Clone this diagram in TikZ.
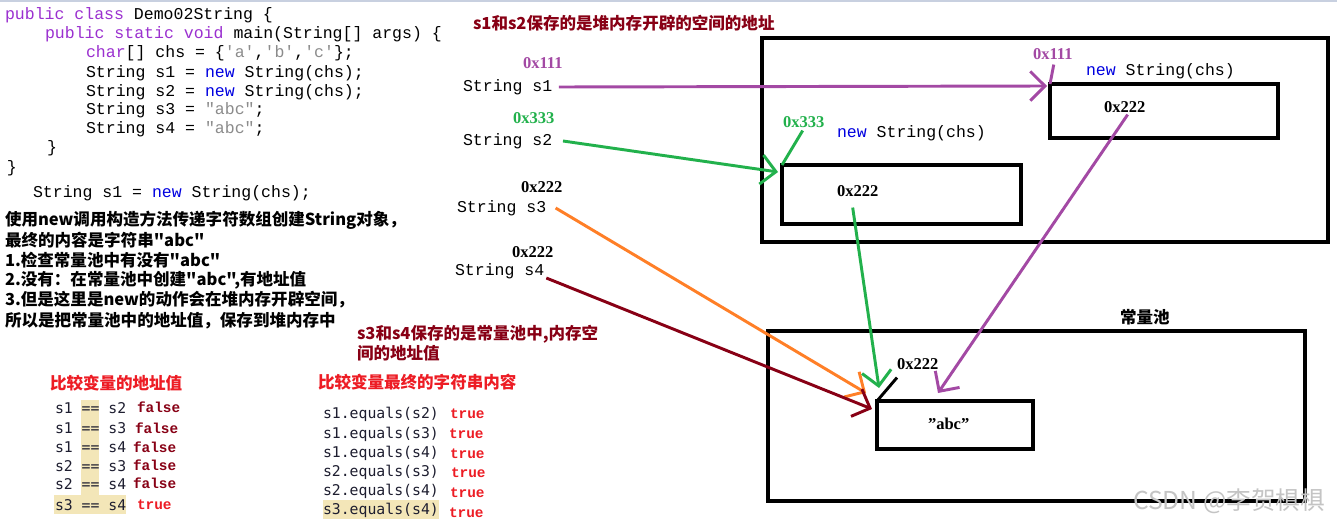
\documentclass[tikz,border=0pt]{standalone}
\usepackage{fontspec}
\setmainfont{Liberation Serif}
\newfontfamily\cour{Liberation Mono}
\newfontfamily\cons{DejaVu Sans Mono}
\newfontfamily\cjk{Noto Sans CJK SC}
\usetikzlibrary{arrows.meta}
\definecolor{kw}{HTML}{9B30D0}
\definecolor{kblue}{HTML}{0000E0}
\definecolor{sgray}{HTML}{8C8C8C}
\definecolor{ppurple}{HTML}{A349A4}
\definecolor{pgreen}{HTML}{22B14C}
\definecolor{porange}{HTML}{FF7F27}
\definecolor{pdred}{HTML}{880015}
\definecolor{pred}{HTML}{ED1C24}
\definecolor{hl}{HTML}{F3E6B8}
\definecolor{ink}{HTML}{1E1E30}
\definecolor{topline}{HTML}{C8D0E0}
\definecolor{wm}{HTML}{C4C4C4}
\tikzset{
  code/.style={font=\cour\fontsize{12.4}{14}\selectfont},
  hex/.style={font=\rmfamily\bfseries\fontsize{12.4}{14}\selectfont},
  cn/.style={font=\cjk\bfseries\fontsize{12.4}{14}\selectfont},
  cmp/.style={font=\cons\fontsize{11.1}{13}\selectfont, text=ink},
  res/.style={font=\cour\bfseries\fontsize{10.8}{12}\selectfont},
  membox/.style={draw, line width=3pt, anchor=north west},
  arr/.style={line width=2.2pt, -{Straight Barb[length=11pt,width=22pt]}},
  tickline/.style={line width=2.2pt},
}
\newcommand{\kwd}[1]{\textcolor{kw}{#1}}
\newcommand{\nw}[1]{\textcolor{kblue}{#1}}
\newcommand{\sg}[1]{\textcolor{sgray}{#1}}
\begin{document}
\begin{tikzpicture}[x=0.75pt,y=-0.75pt, every node/.style={inner sep=0pt, outer sep=0pt, anchor=west}]
\useasboundingbox (0,0) rectangle (1337,524);
\fill[white] (0,0) rectangle (1337,524);
\draw[topline, line width=1.5pt] (0,1) -- (1337,1);

% ---- code ----
\node[code] (c1) at (5,15) {\kwd{public} \kwd{class} Demo02String \{};
\node[code] (c2) at (45,34) {\kwd{public} \kwd{static} \kwd{void} main(String[] args) \{};
\node[code] (c3) at (86,53) {\kwd{char}[] chs = \{\sg{'a'},\sg{'b'},\sg{'c'}\};};
\node[code] (c4) at (86,73) {String s1 = \nw{new} String(chs);};
\node[code] (c5) at (86,92) {String s2 = \nw{new} String(chs);};
\node[code] (c6) at (86,110) {String s3 = \sg{"abc"};};
\node[code] (c7) at (86,129) {String s4 = \sg{"abc"};};
\node[code] (c8) at (47,148) {\}};
\node[code] (c9) at (7,168) {\}};
\node[code] (c10) at (33,193) {String s1 = \nw{new} String(chs);};

% ---- explanation ----
\node[cn] (e1) at (5,220) {使用new调用构造方法传递字符数组创建String对象，};
\node[cn] (e2) at (5,240) {最终的内容是字符串"abc"};
\node[cn] (e3) at (5,260) {1.检查常量池中有没有"abc"};
\node[cn] (e4) at (5,280) {2.没有：在常量池中创建"abc",有地址值};
\node[cn] (e5) at (5,300) {3.但是这里是new的动作会在堆内存开辟空间，};
\node[cn] (e6) at (5,321) {所以是把常量池中的地址值，保存到堆内存中};

% ---- comparison tables ----
\fill[hl] (81,400) rectangle (99,514);
\fill[hl] (54,495) rectangle (126,514);
\fill[hl] (323,500) rectangle (439,519);
\node[cn, text=pred] (t1) at (50,383) {比较变量的地址值};
\node[cmp] (r1) at (55,408) {s1 == s2};
\node[cmp] (r2) at (55,428) {s1 == s3};
\node[cmp] (r3) at (55,447) {s1 == s4};
\node[cmp] (r4) at (55,466) {s2 == s3};
\node[cmp] (r5) at (55,484) {s2 == s4};
\node[cmp] (r6) at (55,505) {s3 == s4};
\node[res, text=pdred] (f1) at (137,407) {false};
\node[res, text=pdred] (f2) at (135,428) {false};
\node[res, text=pdred] (f3) at (133,447) {false};
\node[res, text=pdred] (f4) at (133,465) {false};
\node[res, text=pdred] (f5) at (133,483) {false};
\node[res, text=pred] (f6) at (137,505) {true};

\node[cn, text=pred] (t2) at (318,382) {比较变量最终的字符串内容};
\node[cmp] (q1) at (323,414) {s1.equals(s2)};
\node[cmp] (q2) at (323,434) {s1.equals(s3)};
\node[cmp] (q3) at (323,453) {s1.equals(s4)};
\node[cmp] (q4) at (323,472) {s2.equals(s3)};
\node[cmp] (q5) at (323,491) {s2.equals(s4)};
\node[cmp] (q6) at (323,510) {s3.equals(s4)};
\node[res, text=pred] (u1) at (450,414) {true};
\node[res, text=pred] (u2) at (449,434) {true};
\node[res, text=pred] (u3) at (450,454) {true};
\node[res, text=pred] (u4) at (451,473) {true};
\node[res, text=pred] (u5) at (450,493) {true};
\node[res, text=pred] (u6) at (449,513) {true};

% ---- variables ----
\node[cn, text=pdred] (n1) at (473,23) {s1和s2保存的是堆内存开辟的空间的地址};
\node[hex, text=ppurple] (a1) at (523,63) {0x111};
\node[code] (s1) at (463,87) {String s1};
\node[hex, text=pgreen] (a2) at (513,118) {0x333};
\node[code] (s2) at (463,141) {String s2};
\node[hex] (a3) at (521,187) {0x222};
\node[code] (s3) at (457,208) {String s3};
\node[hex] (a4) at (512,252) {0x222};
\node[code] (s4) at (455,271) {String s4};
\node[cn, text=pdred] (n2) at (357,334) {s3和s4保存的是常量池中,内存空};
\node[cn, text=pdred] (n3) at (357,353) {间的地址值};

% ---- heap ----
\node[membox, minimum width=424.5pt, minimum height=153pt] (heap) at (762,38) {};
\node[membox, minimum width=171pt, minimum height=40.5pt] (box1) at (1050,84) {};
\node[membox, minimum width=179.25pt, minimum height=44.25pt] (box2) at (782,165) {};
\node[code] (ns1) at (1086,71) {\nw{new} String(chs)};
\node[code] (ns2) at (837,133) {\nw{new} String(chs)};
\node[hex, text=ppurple] (h1) at (1033,54) {0x111};
\node[hex, text=pgreen] (h2) at (783,122) {0x333};
\node[hex] (v1) at (1104,107) {0x222};
\node[hex] (v2) at (837,191) {0x222};

% ---- constant pool ----
\node[cn] (pl) at (1120,317) {常量池};
\node[membox, minimum width=402.75pt, minimum height=127.5pt] (pool) at (768,331) {};
\node[membox, minimum width=117pt, minimum height=36pt] (abc) at (877,401) {};
\node[hex] (p1) at (897,364) {0x222};
\node[hex] (sv) at (928,424) {"abc"};

% ---- ticks ----
\draw[tickline, ppurple] ([shift={(1,5)}]h1.south) -- (box1.north west);
\draw[tickline, pgreen] ([shift={(-1,3)}]h2.south) -- (box2.north west);
\draw[tickline] ([shift={(0,8)}]p1.south west) -- (abc.north west);

% ---- connectors ----
\draw[arr, ppurple] ([xshift=5pt]s1.east) -- ([shift={(-3,2)}]box1.north west);
\draw[arr, pgreen] ([xshift=8pt]s2.east) -- ([shift={(-4,7)}]box2.north west);
\draw[arr, porange] ([xshift=7pt]s3.east) -- ([shift={(-11,-8)}]abc.north west);
\draw[arr, pdred] ([shift={(2,7)}]s4.east) -- ([shift={(-5,8)}]abc.north west);
\draw[arr, pgreen] ([shift={(-5,11)}]v2.south) -- ([shift={(2,-13)}]abc.north west);
\draw[arr, ppurple] ([shift={(3,2)}]v1.south) -- ([shift={(61,-8)}]abc.north west);

% ---- watermark ----
\node[font=\cjk\fontsize{18.5}{20}\selectfont, text=wm] (wmk) at (1133,501) {CSDN @李贺椇椇};
\end{tikzpicture}
\end{document}
